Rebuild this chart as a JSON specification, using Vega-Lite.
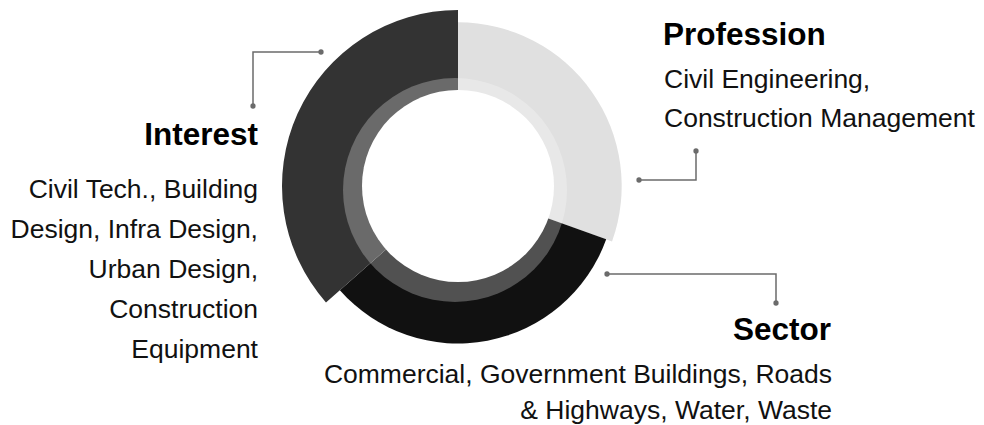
{
  "$schema": "https://vega.github.io/schema/vega-lite/v6.json",
  "width": 984,
  "height": 425,
  "autosize": {"type": "none"},
  "padding": 0,
  "background": "white",
  "config": {
    "view": {"stroke": null},
    "text": {"font": "Liberation Sans", "color": "#111111"}
  },
  "datasets": {
    "segments": [
      {"Category": "Profession", "Idx": 1, "Share": 30.5, "Reach": 93},
      {"Category": "Sector", "Idx": 2, "Share": 33, "Reach": 89.5},
      {"Category": "Interest", "Idx": 3, "Share": 36.5, "Reach": 100}
    ],
    "leaders": [
      {"leader": "Interest", "seq": 1, "x": -137, "y": 134},
      {"leader": "Interest", "seq": 2, "x": -205, "y": 134},
      {"leader": "Interest", "seq": 3, "x": -205, "y": 80},
      {"leader": "Profession", "seq": 1, "x": 181, "y": 6},
      {"leader": "Profession", "seq": 2, "x": 238, "y": 6},
      {"leader": "Profession", "seq": 3, "x": 238, "y": 35},
      {"leader": "Sector", "seq": 1, "x": 149, "y": -88},
      {"leader": "Sector", "seq": 2, "x": 318, "y": -88},
      {"leader": "Sector", "seq": 3, "x": 318, "y": -117}
    ],
    "labels": [
      {"block": "Profession", "kind": "head", "text": "Profession", "x": 205, "y": 141},
      {"block": "Profession", "kind": "body", "text": "Civil Engineering,", "x": 206, "y": 98},
      {"block": "Profession", "kind": "body", "text": "Construction Management", "x": 206, "y": 59},
      {"block": "Interest", "kind": "head", "text": "Interest", "x": -200, "y": 41},
      {"block": "Interest", "kind": "body", "text": "Civil Tech., Building", "x": -200, "y": -12},
      {"block": "Interest", "kind": "body", "text": "Design, Infra Design,", "x": -200, "y": -52},
      {"block": "Interest", "kind": "body", "text": "Urban Design,", "x": -200, "y": -92},
      {"block": "Interest", "kind": "body", "text": "Construction", "x": -200, "y": -132},
      {"block": "Interest", "kind": "body", "text": "Equipment", "x": -200, "y": -172},
      {"block": "Sector", "kind": "head", "text": "Sector", "x": 373, "y": -154},
      {"block": "Sector", "kind": "body", "text": "Commercial, Government Buildings, Roads", "x": 374, "y": -197},
      {"block": "Sector", "kind": "body", "text": "& Highways, Water, Waste", "x": 374, "y": -233}
    ]
  },
  "layer": [
    {
      "data": {"name": "segments"},
      "transform": [
        {"stack": "Share", "groupby": [], "sort": [{"field": "Idx", "order": "ascending"}], "as": ["ShareStart", "ShareEnd"]}
      ],
      "mark": {"type": "arc", "innerRadius": 0},
      "encoding": {
        "x": {"datum": 0, "type": "quantitative", "scale": {"domain": [-458, 526], "zero": false, "nice": false}, "axis": null},
        "y": {"datum": 0, "type": "quantitative", "scale": {"domain": [-239, 186], "zero": false, "nice": false}, "axis": null},
        "theta": {"field": "ShareStart", "type": "quantitative", "stack": null, "scale": {"domain": [0, 100], "range": [0, 6.2832], "zero": true, "nice": false}},
        "theta2": {"field": "ShareEnd"},
        "radius": {"field": "Reach", "type": "quantitative", "scale": {"type": "linear", "domain": [0, 100], "range": [0, 176], "zero": true}},
        "color": {
          "field": "Category",
          "type": "nominal",
          "scale": {"domain": ["Profession", "Sector", "Interest"], "range": ["#e0e0e0", "#111111", "#333333"]},
          "legend": null
        }
      }
    },
    {
      "data": {"values": [{"part": "ring"}]},
      "mark": {"type": "arc", "theta": 0, "theta2": 6.2832, "innerRadius": 0, "outerRadius": 112, "color": "white", "opacity": 0.27},
      "encoding": {
        "x": {"datum": -3, "type": "quantitative", "axis": null},
        "y": {"datum": -4, "type": "quantitative", "axis": null}
      }
    },
    {
      "data": {"values": [{"part": "hole"}]},
      "mark": {"type": "arc", "theta": 0, "theta2": 6.2832, "innerRadius": 0, "outerRadius": 96, "color": "white", "opacity": 1},
      "encoding": {
        "x": {"datum": 0, "type": "quantitative", "axis": null},
        "y": {"datum": 0, "type": "quantitative", "axis": null}
      }
    },
    {
      "data": {"name": "leaders"},
      "mark": {"type": "line", "color": "#6b6b6b", "strokeWidth": 1.5},
      "encoding": {
        "x": {"field": "x", "type": "quantitative", "axis": null},
        "y": {"field": "y", "type": "quantitative", "axis": null},
        "detail": {"field": "leader", "type": "nominal"},
        "order": {"field": "seq", "type": "quantitative"}
      }
    },
    {
      "data": {"name": "leaders"},
      "transform": [{"filter": "datum.seq != 2"}],
      "mark": {"type": "point", "filled": true, "size": 28, "color": "#6b6b6b", "opacity": 1},
      "encoding": {
        "x": {"field": "x", "type": "quantitative", "axis": null},
        "y": {"field": "y", "type": "quantitative", "axis": null}
      }
    },
    {
      "data": {"name": "labels"},
      "transform": [{"filter": "datum.kind == 'head' && datum.block != 'Profession'"}],
      "mark": {"type": "text", "align": "right", "baseline": "alphabetic", "fontSize": 31.5, "fontWeight": "bold", "color": "#000000"},
      "encoding": {
        "x": {"field": "x", "type": "quantitative", "axis": null},
        "y": {"field": "y", "type": "quantitative", "axis": null},
        "text": {"field": "text"}
      }
    },
    {
      "data": {"name": "labels"},
      "transform": [{"filter": "datum.kind == 'head' && datum.block == 'Profession'"}],
      "mark": {"type": "text", "align": "left", "baseline": "alphabetic", "fontSize": 31.5, "fontWeight": "bold", "color": "#000000"},
      "encoding": {
        "x": {"field": "x", "type": "quantitative", "axis": null},
        "y": {"field": "y", "type": "quantitative", "axis": null},
        "text": {"field": "text"}
      }
    },
    {
      "data": {"name": "labels"},
      "transform": [{"filter": "datum.kind == 'body' && datum.block != 'Profession'"}],
      "mark": {"type": "text", "align": "right", "baseline": "alphabetic", "fontSize": 26.5},
      "encoding": {
        "x": {"field": "x", "type": "quantitative", "axis": null},
        "y": {"field": "y", "type": "quantitative", "axis": null},
        "text": {"field": "text"}
      }
    },
    {
      "data": {"name": "labels"},
      "transform": [{"filter": "datum.kind == 'body' && datum.block == 'Profession'"}],
      "mark": {"type": "text", "align": "left", "baseline": "alphabetic", "fontSize": 26.5},
      "encoding": {
        "x": {"field": "x", "type": "quantitative", "axis": null},
        "y": {"field": "y", "type": "quantitative", "axis": null},
        "text": {"field": "text"}
      }
    }
  ]
}
